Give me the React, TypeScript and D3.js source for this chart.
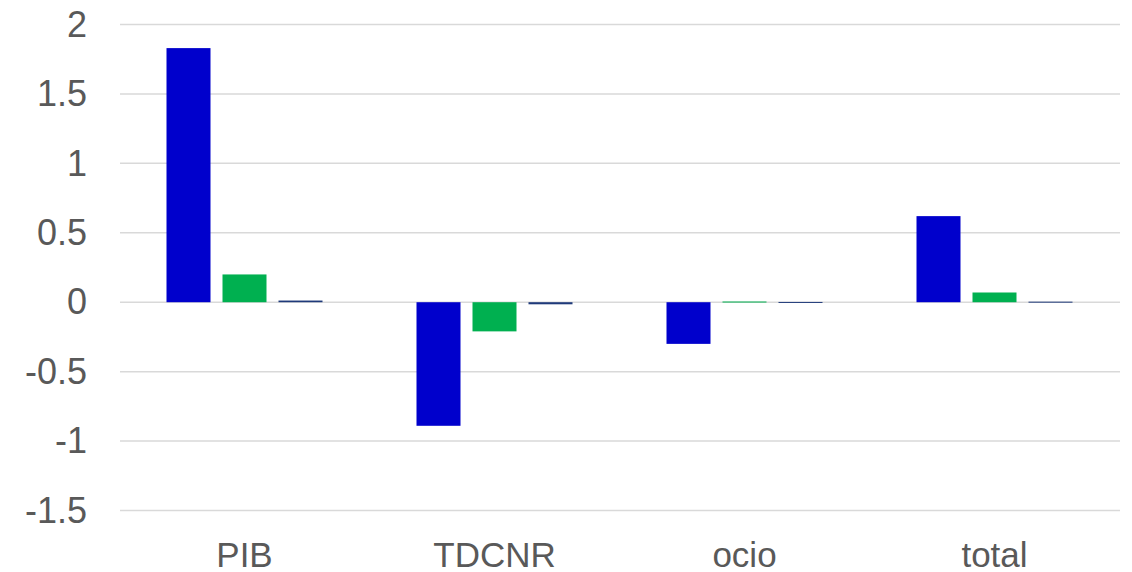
import React from "react";
import * as d3 from "d3";

const categories = ["PIB", "TDCNR", "ocio", "total"];
const series1 = [1.83, -0.89, -0.3, 0.62];
const series2 = [0.2, -0.21, 0.005, 0.07];
const series3 = [0.012, -0.015, 0.002, 0.004];
const yTicks = [-1.5, -1, -0.5, 0, 0.5, 1, 1.5, 2];

const colors = ["#0000CC", "#00B050", "#1F3A7A"];

export default function App() {
  const svgRef = React.useRef<SVGSVGElement>(null);
  const width = 1132;
  const height = 572;

  React.useEffect(() => {
    const svg = d3.select(svgRef.current);
    svg.selectAll("*").remove();

    const x = d3.scaleBand().domain(categories).range([119.5, 1119.5]);
    const y = d3.scaleLinear().domain([-1.5, 2]).range([510.5, 24.5]);

    // grid
    svg.append("g")
      .selectAll("line")
      .data(yTicks)
      .enter()
      .append("line")
      .attr("x1", 120)
      .attr("x2", 1120)
      .attr("y1", (d) => y(d))
      .attr("y2", (d) => y(d))
      .attr("stroke", "#d9d9d9")
      .attr("stroke-width", 1.5);

    // y labels
    svg.append("g")
      .selectAll("text")
      .data(yTicks)
      .enter()
      .append("text")
      .attr("x", 87)
      .attr("y", (d) => y(d))
      .attr("dy", "0.34em")
      .attr("text-anchor", "end")
      .attr("font-family", "'Liberation Sans', Arial, sans-serif")
      .attr("font-size", 36)
      .attr("fill", "#595959")
      .text((d) => String(d));

    const allSeries = [series1, series2, series3];
    const barW = 44;
    const gap = 12;
    const groupW = barW * 3 + gap * 2;

    allSeries.forEach((vals, si) => {
      svg.append("g")
        .selectAll("rect")
        .data(vals)
        .enter()
        .append("rect")
        .attr("x", (d, i) => x(categories[i])! + (x.bandwidth() - groupW) / 2 + si * (barW + gap))
        .attr("y", (d) => y(Math.max(0, d)))
        .attr("width", barW)
        .attr("height", (d) => Math.max(1, Math.abs(y(d) - y(0))))
        .attr("fill", colors[si]);
    });

    // category labels
    svg.append("g")
      .selectAll("text")
      .data(categories)
      .enter()
      .append("text")
      .attr("x", (d) => x(d)! + x.bandwidth() / 2)
      .attr("y", 567)
      .attr("text-anchor", "middle")
      .attr("font-family", "'Liberation Sans', Arial, sans-serif")
      .attr("font-size", 35)
      .attr("fill", "#595959")
      .text((d) => d);
  }, []);

  return (
    <svg
      ref={svgRef}
      width={width}
      height={height}
      style={{ position: "absolute", left: 0, top: 0, background: "#fff" }}
    />
  );
}
